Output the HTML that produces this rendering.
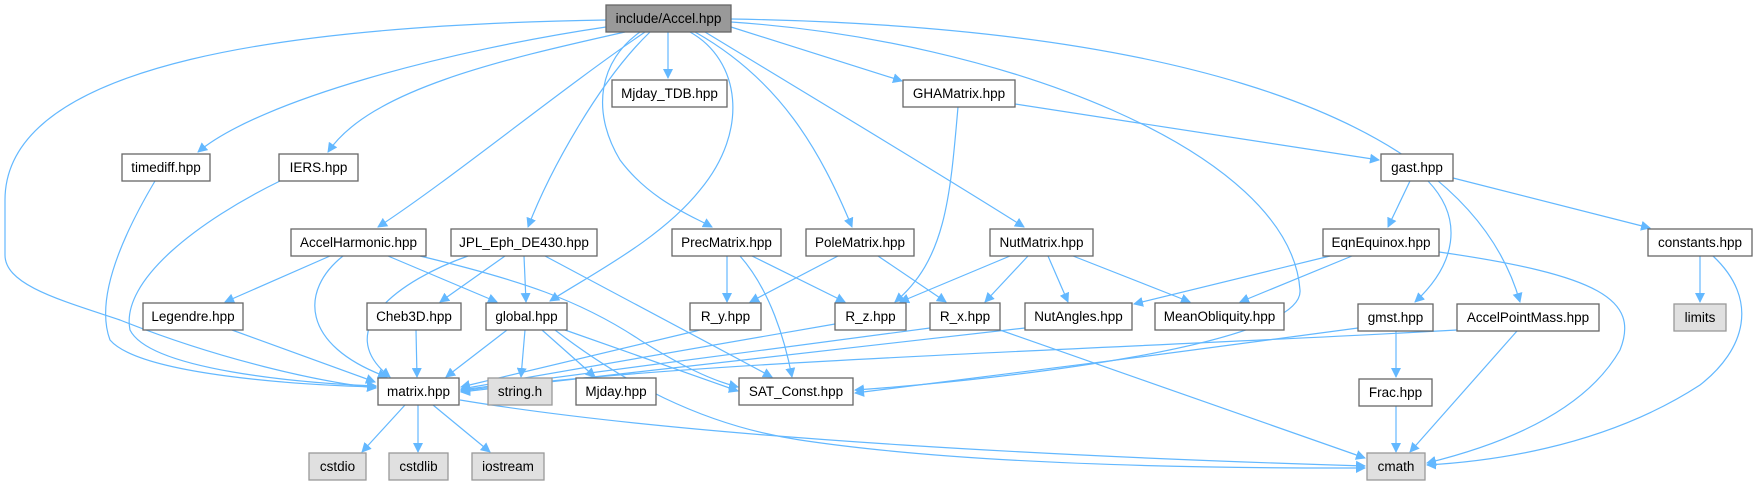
<!DOCTYPE html>
<html><head><meta charset="utf-8"><style>
body{margin:0;background:#fff}
svg{display:block}
text{font-family:"Liberation Sans",Arial,sans-serif;font-size:13.5px;fill:#000;text-anchor:middle}
.n{fill:#fff;stroke:#666;stroke-width:1.3}
.g{fill:#e0e0e0;stroke:#999;stroke-width:1.3}
.r{fill:#999;stroke:#666;stroke-width:1.3}
path.e{fill:none;stroke:#63b8ff;stroke-width:1.2;marker-end:url(#a)}
</style></head><body>
<svg width="1757" height="485" viewBox="0 0 1757 485" xmlns="http://www.w3.org/2000/svg">
<defs><marker id="a" viewBox="0 0 10 10" refX="9" refY="5" markerWidth="10" markerHeight="10" markerUnits="userSpaceOnUse" orient="auto"><path d="M0,0 L10,5 L0,10 z" fill="#63b8ff"/></marker></defs>
<g>
<path class="e" d="M606,20 C300,25 5,60 5,200 L5,255 C5,285 60,300 120,320 C220,360 320,382 376,388"/>
<path class="e" d="M155,181 C120,240 95,300 110,340 C140,375 300,385 376,387"/>
<path class="e" d="M280,181 C200,220 120,280 130,330 C150,370 300,383 376,386"/>
<path class="e" d="M606,27 C450,50 260,100 198,152"/>
<path class="e" d="M625,32 C500,60 370,90 328,152"/>
<path class="e" d="M645,32 C560,90 450,180 378,227"/>
<path class="e" d="M650,32 C600,80 550,170 528,227"/>
<path class="e" d="M690,32 C740,60 750,130 700,190 C660,240 590,275 550,301"/>
<path class="e" d="M668,32 L668,78"/>
<path class="e" d="M640,32 C600,60 590,110 620,160 C650,200 690,215 712,227"/>
<path class="e" d="M695,32 C780,80 820,150 852,227"/>
<path class="e" d="M705,32 C850,120 950,180 1024,227"/>
<path class="e" d="M731,27 L902,81"/>
<path class="e" d="M731,22 C1000,40 1290,150 1300,290 C1305,345 1000,380 855,390"/>
<path class="e" d="M731,19 C1100,25 1460,90 1520,302"/>
<path class="e" d="M1015,104 L1379,160"/>
<path class="e" d="M958,107 C950,200 945,260 895,302"/>
<path class="e" d="M1410,181 L1388,227"/>
<path class="e" d="M1428,181 C1465,220 1455,265 1415,302"/>
<path class="e" d="M1453,178 L1650,228"/>
<path class="e" d="M1330,256 L1134,304"/>
<path class="e" d="M1352,256 L1240,302"/>
<path class="e" d="M1439,252 C1600,275 1640,300 1620,350 C1580,420 1480,450 1427,463"/>
<path class="e" d="M1700,256 L1700,302"/>
<path class="e" d="M1713,256 C1760,300 1745,350 1700,385 C1600,450 1480,462 1427,465"/>
<path class="e" d="M1517,331 L1410,452"/>
<path class="e" d="M1457,330 C1100,350 700,360 461,391"/>
<path class="e" d="M1396,331 L1396,377"/>
<path class="e" d="M1358,328 C1200,350 1000,375 855,393"/>
<path class="e" d="M1396,406 L1396,452"/>
<path class="e" d="M330,256 L225,302"/>
<path class="e" d="M343,256 C300,290 300,345 387,377"/>
<path class="e" d="M388,256 L497,302"/>
<path class="e" d="M420,256 C520,280 580,300 640,340 C680,365 710,380 738,387"/>
<path class="e" d="M505,256 L440,302"/>
<path class="e" d="M524,256 L526,302"/>
<path class="e" d="M468,256 C400,280 330,330 390,377"/>
<path class="e" d="M545,256 L772,377"/>
<path class="e" d="M232,330 L375,382"/>
<path class="e" d="M416,330 L417,377"/>
<path class="e" d="M507,330 L446,377"/>
<path class="e" d="M525,330 L521,377"/>
<path class="e" d="M542,330 L595,377"/>
<path class="e" d="M565,330 L738,391"/>
<path class="e" d="M555,330 C620,380 700,425 800,440 C1000,470 1300,468 1365,468"/>
<path class="e" d="M405,405 L362,452"/>
<path class="e" d="M418,405 L418,452"/>
<path class="e" d="M433,405 L490,452"/>
<path class="e" d="M460,400 C700,440 1100,458 1365,466"/>
<path class="e" d="M727,256 L727,302"/>
<path class="e" d="M752,256 L845,302"/>
<path class="e" d="M740,256 C770,290 785,340 792,377"/>
<path class="e" d="M838,256 L750,302"/>
<path class="e" d="M878,256 L946,302"/>
<path class="e" d="M1010,256 L900,302"/>
<path class="e" d="M1028,256 L985,302"/>
<path class="e" d="M1048,256 L1068,302"/>
<path class="e" d="M1073,256 L1190,302"/>
<path class="e" d="M700,330 L461,387"/>
<path class="e" d="M835,324 L461,389"/>
<path class="e" d="M930,328 L461,390"/>
<path class="e" d="M1000,330 L1365,458"/>
<path class="e" d="M1025,328 L461,392"/>
</g>
<g>
<rect class="r" x="606" y="5" width="125" height="27"/><text x="668.5" y="23">include/Accel.hpp</text>
<rect class="n" x="612" y="80" width="115" height="27"/><text x="669.5" y="98">Mjday_TDB.hpp</text>
<rect class="n" x="903" y="80" width="112" height="27"/><text x="959" y="98">GHAMatrix.hpp</text>
<rect class="n" x="122" y="154" width="88" height="27"/><text x="166" y="172">timediff.hpp</text>
<rect class="n" x="279" y="154" width="79" height="27"/><text x="318.5" y="172">IERS.hpp</text>
<rect class="n" x="1381" y="154" width="72" height="27"/><text x="1417" y="172">gast.hpp</text>
<rect class="n" x="291" y="229" width="135" height="27"/><text x="358.5" y="247">AccelHarmonic.hpp</text>
<rect class="n" x="451" y="229" width="146" height="27"/><text x="524" y="247">JPL_Eph_DE430.hpp</text>
<rect class="n" x="672" y="229" width="109" height="27"/><text x="726.5" y="247">PrecMatrix.hpp</text>
<rect class="n" x="806" y="229" width="108" height="27"/><text x="860" y="247">PoleMatrix.hpp</text>
<rect class="n" x="990" y="229" width="103" height="27"/><text x="1041.5" y="247">NutMatrix.hpp</text>
<rect class="n" x="1323" y="229" width="116" height="27"/><text x="1381" y="247">EqnEquinox.hpp</text>
<rect class="n" x="1648" y="229" width="104" height="27"/><text x="1700" y="247">constants.hpp</text>
<rect class="n" x="143" y="303" width="100" height="27"/><text x="193" y="321">Legendre.hpp</text>
<rect class="n" x="367" y="303" width="94" height="27"/><text x="414" y="321">Cheb3D.hpp</text>
<rect class="n" x="486" y="303" width="81" height="27"/><text x="526.5" y="321">global.hpp</text>
<rect class="n" x="690" y="303" width="71" height="27"/><text x="725.5" y="321">R_y.hpp</text>
<rect class="n" x="835" y="303" width="71" height="27"/><text x="870.5" y="321">R_z.hpp</text>
<rect class="n" x="930" y="303" width="70" height="27"/><text x="965" y="321">R_x.hpp</text>
<rect class="n" x="1025" y="303" width="107" height="27"/><text x="1078.5" y="321">NutAngles.hpp</text>
<rect class="n" x="1155" y="303" width="129" height="27"/><text x="1219.5" y="321">MeanObliquity.hpp</text>
<rect class="n" x="1358" y="304" width="75" height="27"/><text x="1395.5" y="322">gmst.hpp</text>
<rect class="n" x="1457" y="304" width="142" height="27"/><text x="1528" y="322">AccelPointMass.hpp</text>
<rect class="g" x="1674" y="304" width="52" height="27"/><text x="1700" y="322">limits</text>
<rect class="n" x="378" y="378" width="81" height="27"/><text x="418.5" y="396">matrix.hpp</text>
<rect class="g" x="488" y="378" width="64" height="27"/><text x="520" y="396">string.h</text>
<rect class="n" x="576" y="378" width="80" height="27"/><text x="616" y="396">Mjday.hpp</text>
<rect class="n" x="739" y="378" width="114" height="27"/><text x="796" y="396">SAT_Const.hpp</text>
<rect class="n" x="1359" y="379" width="73" height="27"/><text x="1395.5" y="397">Frac.hpp</text>
<rect class="g" x="309" y="453" width="57" height="27"/><text x="337.5" y="471">cstdio</text>
<rect class="g" x="389" y="453" width="59" height="27"/><text x="418.5" y="471">cstdlib</text>
<rect class="g" x="472" y="453" width="72" height="27"/><text x="508" y="471">iostream</text>
<rect class="g" x="1367" y="453" width="58" height="27"/><text x="1396" y="471">cmath</text>
</g>
</svg>
</body></html>
